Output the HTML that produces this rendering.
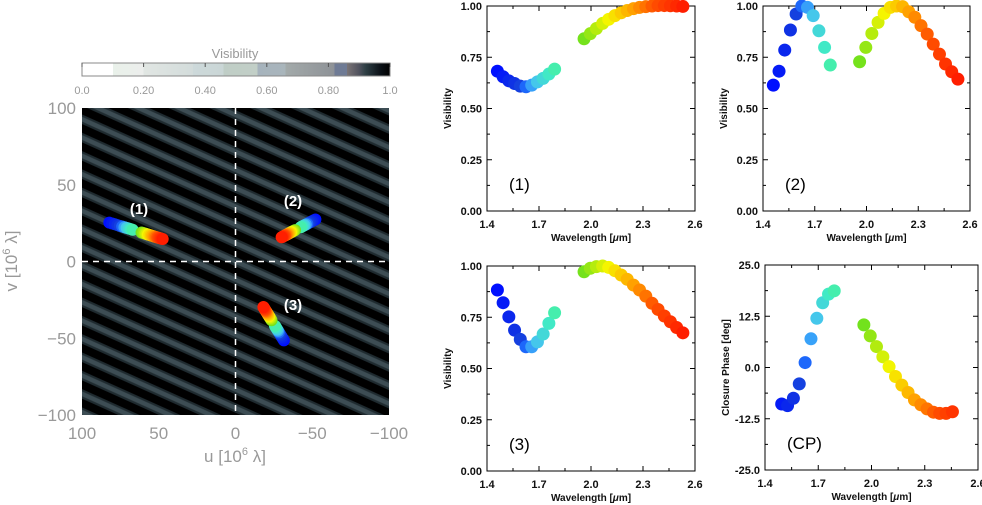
<!DOCTYPE html>
<html><head><meta charset="utf-8">
<style>
html,body{margin:0;padding:0;background:#fff;}
body{width:982px;height:505px;overflow:hidden;position:relative;font-family:"Liberation Sans",sans-serif;}
svg{position:absolute;left:0;top:0;}
</style></head>
<body>
<svg id="fig" width="982" height="505" viewBox="0 0 982 505" xmlns="http://www.w3.org/2000/svg">
<defs>
<linearGradient id="cbar" x1="0" x2="1" y1="0" y2="0">
<stop offset="0" stop-color="#ffffff"/><stop offset="0.1" stop-color="#ffffff"/>
<stop offset="0.1" stop-color="#e9f1ea"/><stop offset="0.2" stop-color="#eceeec"/>
<stop offset="0.2" stop-color="#e1e6e3"/><stop offset="0.36" stop-color="#d3dcdb"/>
<stop offset="0.36" stop-color="#cdd9da"/><stop offset="0.46" stop-color="#cad6d6"/>
<stop offset="0.46" stop-color="#bfcdc6"/><stop offset="0.57" stop-color="#c2cfc7"/>
<stop offset="0.57" stop-color="#a6b3bd"/><stop offset="0.66" stop-color="#a9b5bb"/>
<stop offset="0.66" stop-color="#a3aaaa"/><stop offset="0.82" stop-color="#8e9297"/>
<stop offset="0.82" stop-color="#6f7b95"/><stop offset="0.86" stop-color="#6f7b95"/>
<stop offset="0.86" stop-color="#7a7476"/><stop offset="0.9" stop-color="#50525e"/>
<stop offset="0.92" stop-color="#2f4046"/><stop offset="0.97" stop-color="#0a1016"/>
<stop offset="1" stop-color="#000"/>
</linearGradient>
<pattern id="fringe" patternUnits="userSpaceOnUse" width="40" height="16.7" patternTransform="rotate(24.2)">
<rect width="40" height="16.7" fill="#000"/>
<rect y="4" width="40" height="2" fill="#1f2b30"/>
<rect y="6" width="40" height="4.7" fill="#3d4d54"/>
<rect y="10.7" width="40" height="2" fill="#1f2b30"/>
</pattern>
</defs>
<g id="left"></g>
<g id="panels"></g>
</svg>
<script>
// ---- data ----
const lamShort = [1.46,1.493,1.526,1.559,1.592,1.625,1.658,1.691,1.724,1.757,1.79];
const lamLong = [1.96,1.996,2.031,2.067,2.102,2.138,2.174,2.209,2.245,2.280,2.316,2.352,2.387,2.423,2.458,2.494,2.53];
const vis1Short = [0.682,0.655,0.635,0.622,0.609,0.606,0.614,0.630,0.647,0.668,0.692];
const vis1Long = [0.84,0.865,0.89,0.915,0.935,0.953,0.967,0.978,0.987,0.993,0.997,1.0,1.002,1.002,1.001,1.0,0.998];
const vis2Short = [0.614,0.682,0.785,0.883,0.961,1.0,0.993,0.953,0.879,0.798,0.712];
const vis2Long = [0.728,0.798,0.866,0.920,0.964,0.993,1.0,0.997,0.972,0.945,0.904,0.863,0.814,0.765,0.717,0.679,0.643];
const vis3Short = [0.883,0.821,0.752,0.687,0.642,0.606,0.606,0.630,0.668,0.720,0.772];
const vis3Long = [0.972,0.989,0.997,1.0,0.993,0.977,0.956,0.935,0.907,0.883,0.853,0.818,0.788,0.756,0.728,0.700,0.674];
const cpLamShort = [1.494,1.527,1.56,1.593,1.626,1.659,1.692,1.725,1.758,1.79];
const cpShort = [-8.9,-9.3,-7.5,-4.0,1.2,7.0,12.0,15.8,17.9,18.7];
const cpLamLong = [1.957,1.993,2.028,2.064,2.099,2.135,2.171,2.206,2.242,2.278,2.313,2.349,2.384,2.42,2.456];
const cpLong = [10.4,7.7,5.1,2.6,0.2,-2.2,-4.3,-6.1,-7.9,-9.1,-10.1,-10.9,-11.2,-11.2,-10.8];
const baselines = [[120,37],[-76,40],[-46,-75]];
const baselineNames = ["(1)","(2)","(3)"];
const visTicks = ["0.00","0.25","0.50","0.75","1.00"];
const cpTicks = ["-25.0","-12.5","0.0","12.5","25.0"];
const lamTicks = ["1.4","1.7","2.0","2.3","2.6"];
const uvTicks = [100,50,0,-50,-100];
const cbarTicks = ["0.0","0.20","0.40","0.60","0.80","1.0"];

const NS="http://www.w3.org/2000/svg";
function mk(tag,attrs,parent,text){const e=document.createElementNS(NS,tag);for(const k in attrs)e.setAttribute(k,attrs[k]);if(text!==undefined)e.textContent=text;parent.appendChild(e);return e;}
function lerp(a,b,t){return a+(b-a)*t;}
const cmapStops=[[0,[0,16,255]],[0.12,[20,60,220]],[0.16,[30,110,255]],[0.2,[70,190,245]],[0.29,[64,240,190]],[0.46,[110,225,30]],[0.6,[245,245,0]],[0.72,[255,170,0]],[0.85,[255,80,0]],[1,[255,30,0]]];
function cmap(lam){let t=(lam-1.46)/(2.53-1.46);t=Math.max(0,Math.min(1,t));for(let i=1;i<cmapStops.length;i++){if(t<=cmapStops[i][0]){const a=cmapStops[i-1],b=cmapStops[i];const f=(t-a[0])/(b[0]-a[0]);return `rgb(${a[1].map((v,j)=>Math.round(lerp(v,b[1][j],f))).join(',')})`;}}return 'rgb(255,30,0)';}

// ---- left uv panel ----
const L=document.getElementById('left');
const mx0=82,mx1=389,my0=108,my1=415;
const ux=u=>mx0+(100-u)/200*(mx1-mx0);
const vy=v=>my0+(100-v)/200*(my1-my0);
let e;
e=mk('text',{x:235,y:58,'text-anchor':'middle','font-size':13,fill:'#999'},L,'Visibility');

e=mk('rect',{x:82,y:63,width:308,height:13,fill:'url(#cbar)',stroke:'#888','stroke-width':1},L);

cbarTicks.forEach((t,i)=>{const x=82+i*308/5;
 mk('line',{x1:x,x2:x,y1:63,y2:67,stroke:'#555'},L);
 e=mk('text',{x:x,y:94,'text-anchor':'middle','font-size':11,fill:'#999'},L,t);
 });
e=mk('rect',{x:mx0,y:my0,width:mx1-mx0,height:my1-my0,fill:'url(#fringe)'},L);

mk('line',{x1:ux(0),x2:ux(0),y1:my0,y2:my1,stroke:'#fff','stroke-width':1.5,'stroke-dasharray':'6,5'},L);
mk('line',{x1:mx0,x2:mx1,y1:vy(0),y2:vy(0),stroke:'#fff','stroke-width':1.5,'stroke-dasharray':'6,5'},L);
uvTicks.forEach(t=>{
 e=mk('text',{x:76,y:vy(t)+6,'text-anchor':'end','font-size':17,fill:'#999'},L,String(t).replace('-','\u2212'));
 
 e=mk('text',{x:ux(t),y:439,'text-anchor':'middle','font-size':17,fill:'#999'},L,String(t).replace('-','\u2212'));
 });
e=mk('text',{x:235,y:462,'text-anchor':'middle','font-size':17,fill:'#999'},L);
e.innerHTML='u [10<tspan dy="-7" font-size="11">6</tspan><tspan dy="7"> λ]</tspan>';

e=mk('text',{x:0,y:0,'text-anchor':'middle','font-size':17,fill:'#999',transform:'translate(17,261) rotate(-90)'},L);
e.innerHTML='v [10<tspan dy="-7" font-size="11">6</tspan><tspan dy="7"> λ]</tspan>';

const allLam=lamShort.concat(lamLong);
baselines.forEach((b,k)=>{
 allLam.forEach(l=>{e=mk('circle',{cx:ux(b[0]/l),cy:vy(b[1]/l),r:6,fill:cmap(l)},L);
  });
});
[[139,214],[293,206],[293,310]].forEach((p,k)=>{e=mk('text',{x:p[0],y:p[1],'text-anchor':'middle','font-size':15,'font-weight':'bold',fill:'#fff'},L,baselineNames[k]);
 });

// ---- right panels ----
const P=document.getElementById('panels');
function panel(name,box,ymin,ymax,yt,ytitle,tag,series){
 const g=mk('g',{},P);
 const [x0,y0,x1,y1]=box;
 const X=l=>x0+(l-1.4)/1.2*(x1-x0);
 const Y=v=>y1-(v-ymin)/(ymax-ymin)*(y1-y0);
 mk('rect',{x:x0,y:y0,width:x1-x0,height:y1-y0,fill:'none',stroke:'#000','stroke-width':1},g);
 for(let i=0;i<=8;i++){const x=x0+i*(x1-x0)/8,len=i%2?3:5;
  mk('line',{x1:x,x2:x,y1:y1,y2:y1-len,stroke:'#000'},g);mk('line',{x1:x,x2:x,y1:y0,y2:y0+len,stroke:'#000'},g);}
 for(let i=0;i<=8;i++){const y=y1-i*(y1-y0)/8,len=i%2?3:5;
  mk('line',{x1:x0,x2:x0+len,y1:y,y2:y,stroke:'#000'},g);mk('line',{x1:x1,x2:x1-len,y1:y,y2:y,stroke:'#000'},g);}
 lamTicks.forEach(t=>{e=mk('text',{x:X(parseFloat(t)),y:y1+17,'text-anchor':'middle','font-size':11,'font-weight':'bold',fill:'#111'},g,t);
  });
 yt.forEach(t=>{e=mk('text',{x:x0-5,y:Y(parseFloat(t))+4,'text-anchor':'end','font-size':11,'font-weight':'bold',fill:'#111'},g,t);
  });
 e=mk('text',{x:(x0+x1)/2,y:y1+30,'text-anchor':'middle','font-size':10,'font-weight':'bold',fill:'#111'},g);
 e.innerHTML='Wavelength [<tspan font-style="italic">μ</tspan>m]';
 
 e=mk('text',{x:0,y:0,'text-anchor':'middle','font-size':10,'font-weight':'bold',fill:'#111',transform:`translate(${x0-36},${(y0+y1)/2}) rotate(-90)`},g,ytitle);
 
 e=mk('text',{x:x0+22,y:y1-21,'font-size':17,fill:'#000'},g,tag);
 
 series.forEach(([ls,vs])=>ls.forEach((l,i)=>{e=mk('circle',{cx:X(l),cy:Y(vs[i]),r:6.5,fill:cmap(l)},g);
  }));
}
panel('visibility-panel-1',[487,6,695,211],0,1,visTicks,'Visibility','(1)',[[lamShort,vis1Short],[lamLong,vis1Long]]);
panel('visibility-panel-2',[763,6,970,211],0,1,visTicks,'Visibility','(2)',[[lamShort,vis2Short],[lamLong,vis2Long]]);
panel('visibility-panel-3',[487,266,695,471],0,1,visTicks,'Visibility','(3)',[[lamShort,vis3Short],[lamLong,vis3Long]]);
panel('closure-phase-panel',[765,265,978,470],-25,25,cpTicks,'Closure Phase [deg]','(CP)',[[cpLamShort,cpShort],[cpLamLong,cpLong]]);
</script>
</body></html>
